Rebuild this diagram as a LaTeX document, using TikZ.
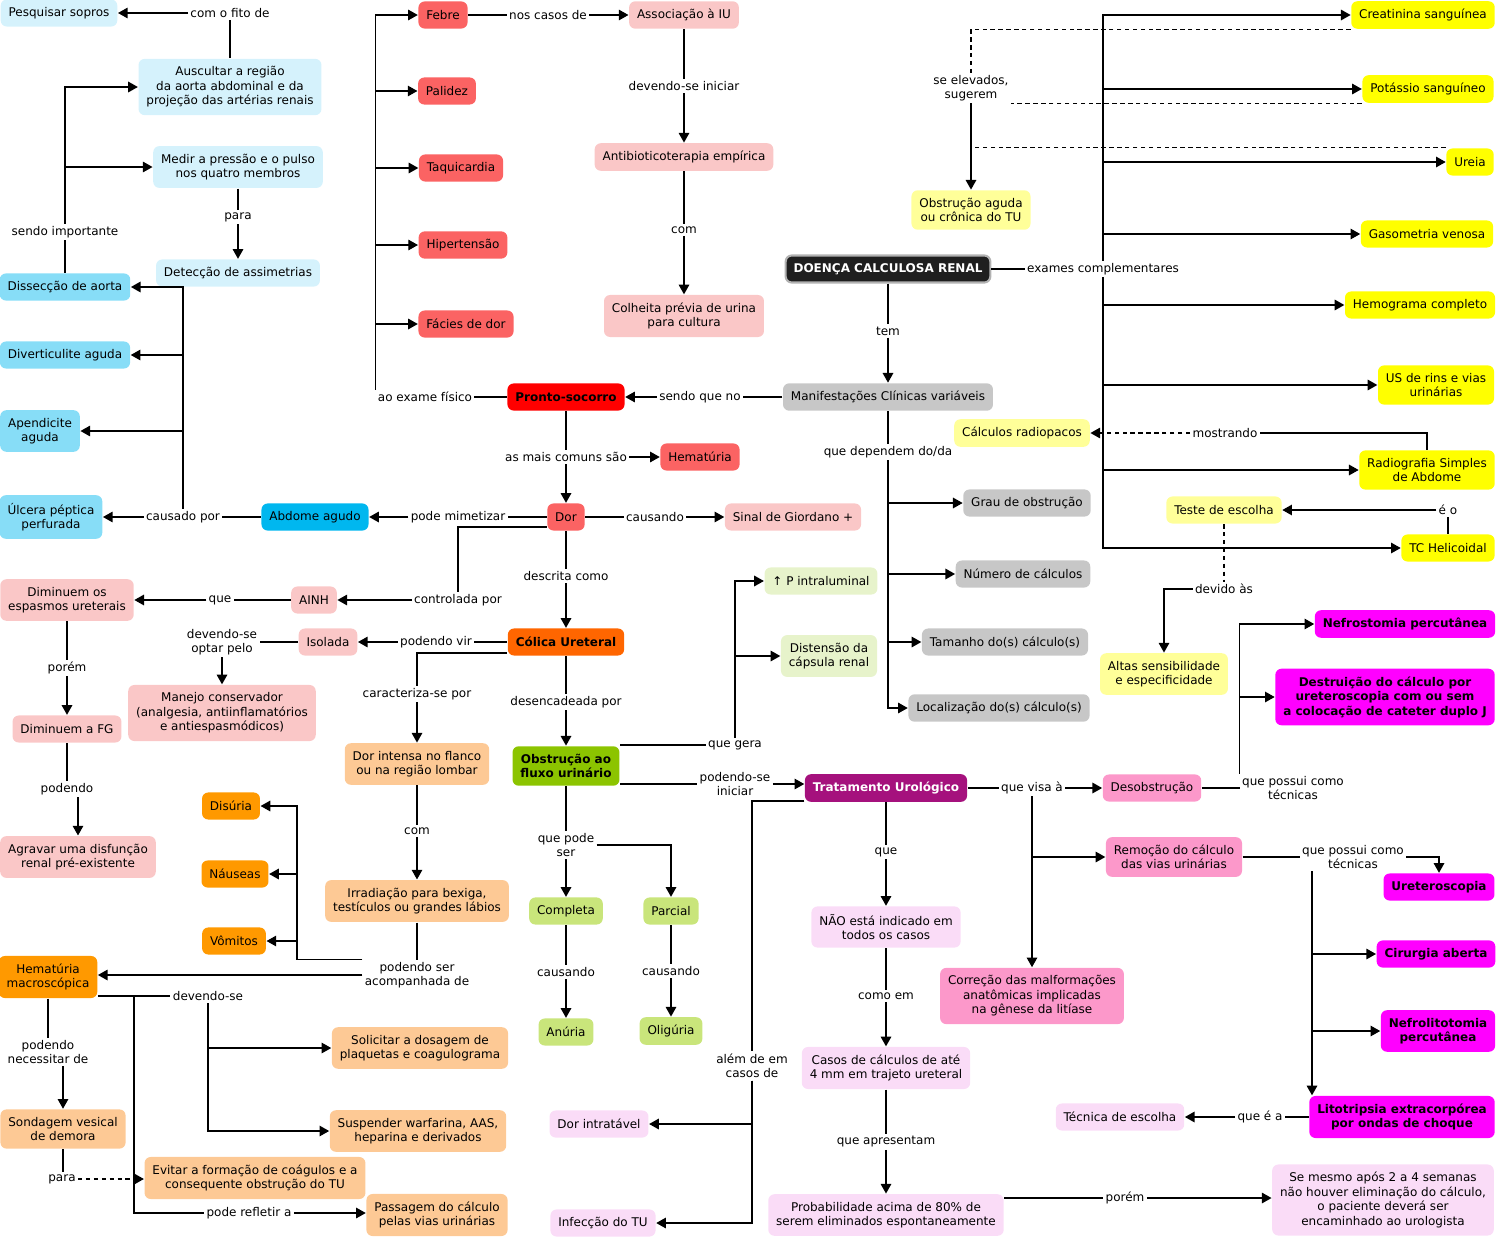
\documentclass[tikz,border=0pt]{standalone}
\usepackage{fontspec}
\setmainfont{DejaVu Sans}
\usetikzlibrary{arrows.meta,calc}

\definecolor{skyA}{HTML}{D5F2FC}
\definecolor{skyB}{HTML}{87DDF7}
\definecolor{skyC}{HTML}{00B7EF}
\definecolor{redA}{HTML}{FB6363}
\definecolor{redB}{HTML}{FF0000}
\definecolor{roseA}{HTML}{FAC7C7}
\definecolor{grayA}{HTML}{C7C7C7}
\definecolor{ylwA}{HTML}{FFFF00}
\definecolor{ylwB}{HTML}{FFFF99}
\definecolor{orgA}{HTML}{FF6600}
\definecolor{orgB}{HTML}{FF9900}
\definecolor{peach}{HTML}{FDC995}
\definecolor{grnA}{HTML}{8CC400}
\definecolor{grnB}{HTML}{C9E57B}
\definecolor{grnC}{HTML}{E7F3CB}
\definecolor{purA}{HTML}{A5117D}
\definecolor{lilac}{HTML}{FADCF7}
\definecolor{pinkA}{HTML}{FC98CA}
\definecolor{magA}{HTML}{FF00FF}

\newcommand{\mapfont}{\fontsize{6.83}{8.25}\selectfont}

\tikzset{
  concept/.style={rounded corners=3.5pt, align=center, inner xsep=4.5pt,
    inner ysep=4.4pt, minimum height=15.4pt, font=\mapfont},
  link/.style={align=center, inner sep=1pt, font=\mapfont},
  arr/.style={-{Triangle[length=5.5pt,width=6pt]}},
  dashlink/.style={dash pattern=on 2.5pt off 2pt},
  cSkyA/.style={fill=skyA}, cSkyB/.style={fill=skyB}, cSkyC/.style={fill=skyC},
  cRedA/.style={fill=redA}, cRedB/.style={fill=redB,font=\mapfont\bfseries},
  cRose/.style={fill=roseA}, cGray/.style={fill=grayA},
  cYlwA/.style={fill=ylwA}, cYlwB/.style={fill=ylwB},
  cOrgA/.style={fill=orgA,font=\mapfont\bfseries}, cOrgB/.style={fill=orgB},
  cPeach/.style={fill=peach},
  cGrnA/.style={fill=grnA,font=\mapfont\bfseries}, cGrnB/.style={fill=grnB},
  cGrnC/.style={fill=grnC},
  cPur/.style={fill=purA,text=white,font=\mapfont\bfseries},
  cLilac/.style={fill=lilac}, cPink/.style={fill=pinkA},
  cMag/.style={fill=magA,font=\mapfont\bfseries},
  cRoot/.style={fill=black!88,draw=gray!60,line width=1.2pt,text=white,font=\mapfont\bfseries}
}

\begin{document}
\begin{tikzpicture}[x=0.02cm,y=-0.02cm,line width=0.75pt]
    \useasboundingbox (0,0) rectangle (1498,1241);

    % conceitos da esquerda
    \node[concept,cSkyA] (pesq) at (59,13) {Pesquisar sopros};
    \node[concept,cSkyA] (ausc) at (230,87) {Auscultar a região\\da aorta abdominal e da\\projeção das artérias renais};
    \node[concept,cSkyA] (medir) at (238,167) {Medir a pressão e o pulso\\nos quatro membros};
    \node[concept,cSkyA] (detec) at (238,273) {Detecção de assimetrias};
    \node[concept,cSkyB] (dissec) at (65,287) {Dissecção de aorta};
    \node[concept,cSkyB] (divert) at (65,355) {Diverticulite aguda};
    \node[concept,cSkyB] (apend) at (40,431) {Apendicite\\aguda};
    \node[concept,cSkyB] (ulcera) at (51,517) {Úlcera péptica\\perfurada};
    \node[concept,cSkyC] (abdome) at (315,517) {Abdome agudo};

    % sinais ao exame fisico
    \node[concept,cRedA] (febre) at (443,15) {Febre};
    \node[concept,cRedA] (palidez) at (447,91) {Palidez};
    \node[concept,cRedA] (taqui) at (461,168) {Taquicardia};
    \node[concept,cRedA] (hipert) at (463,245) {Hipertensão};
    \node[concept,cRedA] (facies) at (466,324) {Fácies de dor};
    \node[concept,cRedB] (pronto) at (566,397) {Pronto-socorro};
    \node[concept,cRose] (assoc) at (684,15) {Associação à IU};
    \node[concept,cRose] (antib) at (684,157) {Antibioticoterapia empírica};
    \node[concept,cRose] (colheita) at (684,316) {Colheita prévia de urina\\para cultura};

    % conceito central e manifestacoes
    \node[concept,cRoot] (doenca) at (888,269) {DOENÇA CALCULOSA RENAL};
    \node[concept,cGray] (manif) at (888,397) {Manifestações Clínicas variáveis};
    \node[concept,cGray] (grau) at (1027,503) {Grau de obstrução};
    \node[concept,cGray] (numero) at (1023,574) {Número de cálculos};
    \node[concept,cGray] (tamanho) at (1005,642) {Tamanho do(s) cálculo(s)};
    \node[concept,cGray] (local) at (999,708) {Localização do(s) cálculo(s)};

    % exames complementares
    \node[concept,cYlwA] (creat) at (1423,15) {Creatinina sanguínea};
    \node[concept,cYlwA] (potas) at (1428,89) {Potássio sanguíneo};
    \node[concept,cYlwA] (ureia) at (1470,162) {Ureia};
    \node[concept,cYlwA] (gaso) at (1427,234) {Gasometria venosa};
    \node[concept,cYlwA] (hemo) at (1420,305) {Hemograma completo};
    \node[concept,cYlwA] (us) at (1436,385) {US de rins e vias\\urinárias};
    \node[concept,cYlwA] (radio) at (1427,470) {Radiografia Simples\\de Abdome};
    \node[concept,cYlwA] (tc) at (1448,548) {TC Helicoidal};
    \node[concept,cYlwB] (obstrTU) at (971,210) {Obstrução aguda\\ou crônica do TU};
    \node[concept,cYlwB] (calcR) at (1022,433) {Cálculos radiopacos};
    \node[concept,cYlwB] (teste) at (1224,510) {Teste de escolha};
    \node[concept,cYlwB] (altas) at (1164,674) {Altas sensibilidade\\e especificidade};

    % dor e colica
    \node[concept,cRedA] (hemat) at (700,457) {Hematúria};
    \node[concept,cRedA] (dor) at (566,517) {Dor};
    \node[concept,cRose] (sinal) at (793,517) {Sinal de Giordano +};
    \node[concept,cOrgA] (colica) at (566,642) {Cólica Ureteral};
    \node[concept,cRose] (ainh) at (314,600) {AINH};
    \node[concept,cRose] (dimesp) at (67,600) {Diminuem os\\espasmos ureterais};
    \node[concept,cRose] (dimfg) at (67,729) {Diminuem a FG};
    \node[concept,cRose] (agravar) at (78,857) {Agravar uma disfunção\\renal pré-existente};
    \node[concept,cRose] (isolada) at (328,642) {Isolada};
    \node[concept,cRose] (manejo) at (222,713) {Manejo conservador\\(analgesia, antiinflamatórios\\e antiespasmódicos)};
    \node[concept,cPeach] (dorint) at (417,764) {Dor intensa no flanco\\ou na região lombar};
    \node[concept,cPeach] (irrad) at (417,901) {Irradiação para bexiga,\\testículos ou grandes lábios};
    \node[concept,cOrgB] (disuria) at (231,806) {Disúria};
    \node[concept,cOrgB] (nauseas) at (235,874) {Náuseas};
    \node[concept,cOrgB] (vomitos) at (234,941) {Vômitos};
    \node[concept,cOrgB] (hematmac) at (48,977) {Hematúria\\macroscópica};
    \node[concept,cPeach] (solicitar) at (420,1048) {Solicitar a dosagem de\\plaquetas e coagulograma};
    \node[concept,cPeach] (suspender) at (418,1131) {Suspender warfarina, AAS,\\heparina e derivados};
    \node[concept,cPeach] (sondagem) at (63,1129) {Sondagem vesical\\de demora};
    \node[concept,cPeach] (evitar) at (255,1178) {Evitar a formação de coágulos e a\\consequente obstrução do TU};
    \node[concept,cPeach] (passagem) at (437,1215) {Passagem do cálculo\\pelas vias urinárias};

    % obstrucao
    \node[concept,cGrnA] (obstrf) at (566,766) {Obstrução ao\\fluxo urinário};
    \node[concept,cGrnC] (pintra) at (821,581) {↑ P intraluminal};
    \node[concept,cGrnC] (disten) at (829,656) {Distensão da\\cápsula renal};
    \node[concept,cGrnB] (completa) at (566,911) {Completa};
    \node[concept,cGrnB] (parcial) at (671,911) {Parcial};
    \node[concept,cGrnB] (anuria) at (566,1032) {Anúria};
    \node[concept,cGrnB] (oliguria) at (671,1031) {Oligúria};

    % tratamento
    \node[concept,cPur] (trat) at (886,788) {Tratamento Urológico};
    \node[concept,cLilac] (naoind) at (886,927) {NÃO está indicado em\\todos os casos};
    \node[concept,cLilac] (casos) at (886,1068) {Casos de cálculos de até\\4 mm em trajeto ureteral};
    \node[concept,cLilac] (prob) at (886,1215) {Probabilidade acima de 80\% de\\serem eliminados espontaneamente};
    \node[concept,cLilac] (semesmo) at (1383,1200) {Se mesmo após 2 a 4 semanas\\não houver eliminação do cálculo,\\o paciente deverá ser\\encaminhado ao urologista};
    \node[concept,cLilac] (dorintr) at (599,1124) {Dor intratável};
    \node[concept,cLilac] (infec) at (603,1223) {Infecção do TU};
    \node[concept,cPink] (desob) at (1152,788) {Desobstrução};
    \node[concept,cPink] (remocao) at (1174,857) {Remoção do cálculo\\das vias urinárias};
    \node[concept,cPink] (correcao) at (1032,996) {Correção das malformações\\anatômicas implicadas\\na gênese da litíase};
    \node[concept,cMag] (nefrost) at (1405,624) {Nefrostomia percutânea};
    \node[concept,cMag] (destru) at (1385,697) {Destruição do cálculo por\\ureteroscopia com ou sem\\a colocação de cateter duplo J};
    \node[concept,cMag] (ureteros) at (1439,887) {Ureteroscopia};
    \node[concept,cMag] (cirurgia) at (1436,954) {Cirurgia aberta};
    \node[concept,cMag] (nefrolito) at (1438,1031) {Nefrolitotomia\\percutânea};
    \node[concept,cMag] (litotr) at (1402,1117) {Litotripsia extracorpórea\\por ondas de choque};
    \node[concept,cLilac] (tecesc) at (1120,1117) {Técnica de escolha};

    % frases de ligacao
    \node[link] (fito) at (230,13) {com o fito de};
    \node[link] (imp) at (65,232) {sendo importante};
    \node[link] (para1) at (238,217) {para};
    \node[link] (cpor) at (183,517) {causado por};
    \node[link] (mim) at (458,517) {pode mimetizar};
    \node[link] (exf) at (425,397) {ao exame físico};
    \node[link] (ncasos) at (548,15) {nos casos de};
    \node[link] (dvi) at (684,86) {devendo-se iniciar};
    \node[link] (com1) at (684,230) {com};
    \node[link] (sqn) at (700,397) {sendo que no};
    \node[link] (tem) at (888,331) {tem};
    \node[link] (exc) at (1103,269) {exames complementares};
    \node[link] (sug) at (971,88) {se elevados,\\sugerem};
    \node[link] (most) at (1225,433) {mostrando};
    \node[link] (eo) at (1448,510) {é o};
    \node[link] (dev) at (1224,589) {devido às};
    \node[link] (qdd) at (888,452) {que dependem do/da};
    \node[link] (amc) at (566,457) {as mais comuns são};
    \node[link] (caus1) at (655,517) {causando};
    \node[link] (desc) at (566,576) {descrita como};
    \node[link] (ctrl) at (458,600) {controlada por};
    \node[link] (que1) at (220,600) {que};
    \node[link] (porem1) at (67,668) {porém};
    \node[link] (pod1) at (67,789) {podendo};
    \node[link] (pvir) at (436,642) {podendo vir};
    \node[link] (dop) at (222,642) {devendo-se\\optar pelo};
    \node[link] (carac) at (417,694) {caracteriza-se por};
    \node[link] (com2) at (417,831) {com};
    \node[link] (psa) at (417,975) {podendo ser\\acompanhada de};
    \node[link] (dse) at (208,996) {devendo-se};
    \node[link] (pref) at (249,1213) {pode refletir a};
    \node[link] (pnec) at (48,1052) {podendo\\necessitar de};
    \node[link] (para2) at (62,1179) {para};
    \node[link] (dpor) at (566,702) {desencadeada por};
    \node[link] (qg) at (735,745) {que gera};
    \node[link] (psi) at (735,784) {podendo-se\\iniciar};
    \node[link] (qps) at (566,845) {que pode\\ser};
    \node[link] (caus2) at (566,972) {causando};
    \node[link] (caus3) at (671,971) {causando};
    \node[link] (qv) at (1032,788) {que visa à};
    \node[link] (que2) at (886,852) {que};
    \node[link] (cem) at (886,996) {como em};
    \node[link] (qap) at (886,1142) {que apresentam};
    \node[link] (porem2) at (1125,1198) {porém};
    \node[link] (alem) at (752,1066) {além de em\\casos de};
    \node[link] (qpc1) at (1293,788) {que possui como\\técnicas};
    \node[link] (qpc2) at (1353,857) {que possui como\\técnicas};
    \node[link] (qea) at (1260,1117) {que é a};

    % ligacoes do lado esquerdo
    \draw (ausc.north) -- (fito.south);
    \draw[arr] (fito.west) -- (pesq.east);
    \draw (dissec.north) -- (imp.south);
    \draw[arr] (imp.north) |- (ausc.west);
    \draw[arr] (imp.north) |- (medir.west);
    \draw (medir.south) -- (para1.north);
    \draw[arr] (para1.south) -- (detec.north);
    \draw (abdome.west) -- (cpor.east);
    \draw[arr] (cpor.west) -- (ulcera.east);
    \draw[arr] (cpor.north) |- (dissec.east);
    \draw[arr] (cpor.north) |- (divert.east);
    \draw[arr] (cpor.north) |- (apend.east);
    \draw (dor.west) -- (mim.east);
    \draw[arr] (mim.west) -- (abdome.east);

    % pronto-socorro
    \draw (pronto.west) -- (exf.east);
    \draw[arr] (exf.north west) |- (febre.west);
    \draw[arr] (exf.north west) |- (palidez.west);
    \draw[arr] (exf.north west) |- (taqui.west);
    \draw[arr] (exf.north west) |- (hipert.west);
    \draw[arr] (exf.north west) |- (facies.west);
    \draw (febre.east) -- (ncasos.west);
    \draw[arr] (ncasos.east) -- (assoc.west);
    \draw (assoc.south) -- (dvi.north);
    \draw[arr] (dvi.south) -- (antib.north);
    \draw (antib.south) -- (com1.north);
    \draw[arr] (com1.south) -- (colheita.north);
    \draw (manif.west) -- (sqn.east);
    \draw[arr] (sqn.west) -- (pronto.east);

    % doenca e exames
    \draw (doenca.south) -- (tem.north);
    \draw[arr] (tem.south) -- (manif.north);
    \draw (doenca.east) -- (exc.west);
    \draw[arr] (exc.north) |- (creat.west);
    \draw[arr] (exc.north) |- (potas.west);
    \draw[arr] (exc.north) |- (ureia.west);
    \draw[arr] (exc.north) |- (gaso.west);
    \draw[arr] (exc.south) |- (hemo.west);
    \draw[arr] (exc.south) |- (us.west);
    \draw[arr] (exc.south) |- (radio.west);
    \draw[arr] (exc.south) |- (tc.west);
    \draw[dashlink] (creat.south west) -| (sug.north);
    \draw[dashlink] (potas.south west) -- (potas.south west -| sug.east);
    \draw[dashlink] (ureia.north west) -- (ureia.north west -| sug.south);
    \draw[arr] (sug.south) -- (obstrTU.north);
    \draw (radio.north) |- (most.east);
    \draw[arr,dashlink] (most.west) -- (calcR.east);
    \draw (tc.north) -- (eo.south);
    \draw[arr] (eo.west) -- (teste.east);
    \draw[dashlink] (teste.south) -- (dev.north);
    \draw[arr] (dev.west) -| (altas.north);
    \draw (manif.south) -- (qdd.north);
    \draw[arr] (qdd.south) |- (grau.west);
    \draw[arr] (qdd.south) |- (numero.west);
    \draw[arr] (qdd.south) |- (tamanho.west);
    \draw[arr] (qdd.south) |- (local.west);

    % dor
    \draw (pronto.south) -- (amc.north);
    \draw[arr] (amc.south) -- (dor.north);
    \draw[arr] (amc.east) -- (hemat.west);
    \draw (dor.east) -- (caus1.west);
    \draw[arr] (caus1.east) -- (sinal.west);
    \draw (dor.south) -- (desc.north);
    \draw[arr] (desc.south) -- (colica.north);
    \draw ($(dor.west)+(0,10)$) -| (ctrl.north);
    \draw[arr] (ctrl.west) -- (ainh.east);
    \draw (ainh.west) -- (que1.east);
    \draw[arr] (que1.west) -- (dimesp.east);
    \draw (dimesp.south) -- (porem1.north);
    \draw[arr] (porem1.south) -- (dimfg.north);
    \draw (dimfg.south) -- (pod1.north);
    \draw[arr] (pod1.south -| agravar.north) -- (agravar.north);

    % colica ureteral
    \draw (colica.west) -- (pvir.east);
    \draw[arr] (pvir.west) -- (isolada.east);
    \draw (isolada.west) -- (dop.east);
    \draw[arr] (dop.south) -- (manejo.north);
    \draw ($(colica.west)+(0,11)$) -| (carac.north);
    \draw[arr] (carac.south) -- (dorint.north);
    \draw (dorint.south) -- (com2.north);
    \draw[arr] (com2.south) -- (irrad.north);
    \draw (irrad.south) -- (psa.north);
    \coordinate (sym) at (psa.north west -| 297,0);
    \draw (psa.north west) -- (sym);
    \draw[arr] (sym) |- (disuria.east);
    \draw[arr] (sym) |- (nauseas.east);
    \draw[arr] (sym) |- (vomitos.east);
    \draw[arr] (psa.west) -- (psa.west -| hematmac.east);

    % hematuria macroscopica
    \draw (dse.west -| hematmac.east) -- (dse.west);
    \draw[arr] (dse.south) |- (solicitar.west);
    \draw[arr] (dse.south) |- (suspender.west);
    \coordinate (pj) at (dse.west -| 134,0);
    \draw (pj) |- (pref.west);
    \draw[arr] (pref.east) -- (pref.east -| passagem.west);
    \draw (hematmac.south) -- (pnec.north);
    \draw[arr] (pnec.south -| sondagem.south) -- (sondagem.north);
    \draw (sondagem.south) -- (sondagem.south |- para2.north);
    \draw[arr,dashlink] (para2.east) -- (para2.east -| evitar.west);

    % obstrucao ao fluxo
    \draw (colica.south) -- (dpor.north);
    \draw[arr] (dpor.south) -- (obstrf.north);
    \draw (qg.west -| obstrf.east) -- (qg.west);
    \draw[arr] (qg.north) |- (pintra.west);
    \draw[arr] (qg.north) |- (disten.west);
    \draw (psi.west -| obstrf.east) -- (psi.west);
    \draw[arr] (psi.east) -- (psi.east -| trat.west);
    \draw (obstrf.south) -- (qps.north);
    \draw[arr] (qps.south) -- (completa.north);
    \draw[arr] (qps.east) -| (parcial.north);
    \draw (completa.south) -- (caus2.north);
    \draw[arr] (caus2.south) -- (anuria.north);
    \draw (parcial.south) -- (caus3.north);
    \draw[arr] (caus3.south) -- (oliguria.north);

    % tratamento urologico
    \draw (trat.east) -- (qv.west);
    \draw[arr] (qv.east) -- (desob.west);
    \draw[arr] (qv.south) |- (remocao.west);
    \draw[arr] (qv.south) -- (correcao.north);
    \draw (trat.south) -- (que2.north);
    \draw[arr] (que2.south) -- (naoind.north);
    \draw (naoind.south) -- (cem.north);
    \draw[arr] (cem.south) -- (casos.north);
    \draw (casos.south) -- (qap.north);
    \draw[arr] (qap.south) -- (prob.north);
    \draw (porem2.west -| prob.east) -- (porem2.west);
    \draw[arr] (porem2.east) -- (porem2.east -| semesmo.west);
    \draw ($(trat.west)+(0,13)$) -| (alem.north);
    \draw[arr] (alem.south) |- (dorintr.east);
    \draw[arr] (alem.south) |- (infec.east);
    \draw (desob.east) -- (qpc1.west);
    \draw[arr] (qpc1.north west) |- (nefrost.west);
    \draw[arr] (qpc1.north west) |- (destru.west);
    \draw (remocao.east) -- (qpc2.west);
    \draw[arr] (qpc2.east) -| (ureteros.north);
    \coordinate (tq) at (qpc2.south -| 1312,0);
    \draw[arr] (tq) |- (cirurgia.west);
    \draw[arr] (tq) |- (nefrolito.west);
    \draw[arr] (tq) -- (tq |- litotr.north);
    \draw (litotr.west) -- (qea.east);
    \draw[arr] (qea.west) -- (tecesc.east);

\end{tikzpicture}
\end{document}
